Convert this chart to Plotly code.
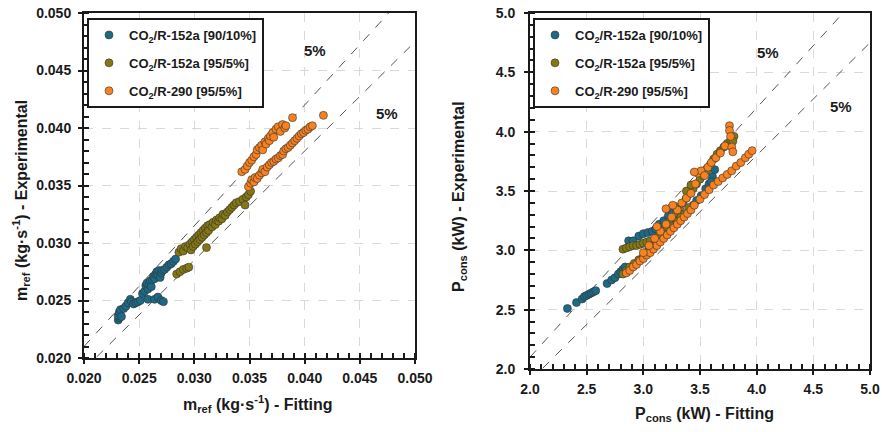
import plotly.graph_objects as go

# ---------------- data ----------------
series_names = ["CO<sub>2</sub>/R-152a [90/10%]", "CO<sub>2</sub>/R-152a [95/5%]", "CO<sub>2</sub>/R-290 [95/5%]"]
series_colors = ["#1c6a86", "#857812", "#f7821f"]

m_ticks = [0.020, 0.025, 0.030, 0.035, 0.040, 0.045, 0.050]
m_tick_labels = ["0.020", "0.025", "0.030", "0.035", "0.040", "0.045", "0.050"]
p_ticks = [2.0, 2.5, 3.0, 3.5, 4.0, 4.5, 5.0]
p_tick_labels = ["2.0", "2.5", "3.0", "3.5", "4.0", "4.5", "5.0"]

# Left panel: refrigerant mass flow (kg/s), fitting vs experimental
m_teal_fit = [0.0231, 0.0232, 0.0231, 0.0232, 0.0233, 0.0234, 0.0236, 0.0238, 0.0240, 0.0242, 0.0243, 0.0245,
              0.0247, 0.0249, 0.0251, 0.0253, 0.0255, 0.0256, 0.0257, 0.0258, 0.0259, 0.0260, 0.0261, 0.0262,
              0.0263, 0.0264, 0.0265, 0.0266, 0.0267, 0.0268, 0.0269, 0.0270, 0.0271, 0.0273, 0.0275, 0.0277,
              0.0279, 0.0281, 0.0283, 0.0258, 0.0264, 0.0267, 0.0270, 0.0272]
m_teal_exp = [0.0233, 0.0235, 0.0237, 0.0240, 0.0242, 0.0236, 0.0243, 0.0245, 0.0248, 0.0251, 0.0249, 0.0247,
              0.0248, 0.0249, 0.0250, 0.0256, 0.0258, 0.0263, 0.0265, 0.0260, 0.0264, 0.0267, 0.0262, 0.0268,
              0.0271, 0.0269, 0.0273, 0.0275, 0.0272, 0.0276, 0.0270, 0.0274, 0.0276, 0.0277, 0.0279, 0.0281,
              0.0282, 0.0284, 0.0286, 0.0251, 0.0251, 0.0253, 0.0250, 0.0249]

m_olive_fit = [0.0284, 0.0287, 0.0290, 0.0293, 0.0295,
               0.0286, 0.0288, 0.0290, 0.0292, 0.0294, 0.0296, 0.0297, 0.0298, 0.0299, 0.0300, 0.0301, 0.0302,
               0.0303, 0.0304, 0.0305, 0.0306, 0.0307, 0.0308, 0.0309, 0.0310, 0.0311, 0.0312, 0.0313, 0.0314,
               0.0316, 0.0317, 0.0319, 0.0320, 0.0322, 0.0323, 0.0325, 0.0326, 0.0328, 0.0330, 0.0332, 0.0334,
               0.0336, 0.0338, 0.0341, 0.0344, 0.0347, 0.0349, 0.0351, 0.0346, 0.0311]
m_olive_exp = [0.0273, 0.0275, 0.0277, 0.0278, 0.0279,
               0.0292, 0.0295, 0.0293, 0.0297, 0.0296, 0.0299, 0.0294, 0.0301, 0.0297, 0.0303, 0.0299, 0.0305,
               0.0301, 0.0307, 0.0303, 0.0309, 0.0305, 0.0311, 0.0307, 0.0313, 0.0309, 0.0315, 0.0311, 0.0316,
               0.0314, 0.0318, 0.0316, 0.0320, 0.0319, 0.0322, 0.0321, 0.0325, 0.0324, 0.0327, 0.0329, 0.0331,
               0.0333, 0.0335, 0.0336, 0.0338, 0.0340, 0.0342, 0.0345, 0.0333, 0.0296]

m_orange_fit = [0.0343, 0.0346, 0.0348, 0.0350, 0.0352, 0.0354, 0.0356, 0.0357, 0.0359, 0.0361, 0.0362, 0.0364,
                0.0365, 0.0367, 0.0368, 0.0369, 0.0371, 0.0372, 0.0374, 0.0376, 0.0378, 0.0380, 0.0382, 0.0383,
                0.0389,
                0.0349, 0.0351, 0.0352, 0.0354, 0.0355, 0.0357, 0.0359, 0.0361, 0.0362, 0.0364, 0.0366, 0.0368,
                0.0370, 0.0372, 0.0374, 0.0376, 0.0378, 0.0380, 0.0381, 0.0383, 0.0385, 0.0387, 0.0389, 0.0391,
                0.0393, 0.0395, 0.0397, 0.0399, 0.0401, 0.0403, 0.0405, 0.0407, 0.0417]
m_orange_exp = [0.0362, 0.0364, 0.0367, 0.0370, 0.0372, 0.0375, 0.0377, 0.0381, 0.0383, 0.0385, 0.0381, 0.0388,
                0.0386, 0.0391, 0.0389, 0.0393, 0.0396, 0.0392, 0.0399, 0.0401, 0.0397, 0.0403, 0.0400, 0.0402,
                0.0409,
                0.0349, 0.0352, 0.0355, 0.0353, 0.0357, 0.0356, 0.0359, 0.0361, 0.0364, 0.0362, 0.0366, 0.0368,
                0.0370, 0.0371, 0.0373, 0.0374, 0.0376, 0.0377, 0.0380, 0.0382, 0.0383, 0.0385, 0.0387, 0.0389,
                0.0391, 0.0393, 0.0395, 0.0396, 0.0398, 0.0399, 0.0401, 0.0402, 0.0411]

# Right panel: power consumption (kW), fitting vs experimental
p_teal_fit = [2.33, 2.41, 2.46, 2.48, 2.50, 2.52, 2.54, 2.56, 2.58, 2.68, 2.72, 2.75, 2.78, 2.80, 2.82, 2.84,
              2.87, 2.91, 2.96, 3.00, 3.04, 3.08, 3.11, 3.14, 3.18, 3.22, 3.26,
              3.05, 3.10, 3.15, 3.20, 3.25, 3.30, 3.35, 3.40, 3.44, 3.47, 3.51, 3.55, 3.58, 3.61, 3.63, 3.60]
p_teal_exp = [2.51, 2.56, 2.59, 2.61, 2.62, 2.63, 2.64, 2.65, 2.66, 2.72, 2.75, 2.77, 2.80, 2.82, 2.84, 2.86,
              3.08, 3.08, 3.12, 3.14, 3.15, 3.16, 3.18, 3.22, 3.25, 3.29, 3.32,
              3.02, 3.07, 3.12, 3.17, 3.22, 3.26, 3.30, 3.34, 3.38, 3.42, 3.46, 3.52, 3.56, 3.62, 3.68, 3.58]

p_olive_fit = [2.82, 2.85, 2.88, 2.91, 2.94, 2.97, 3.00, 3.03, 3.06,
               2.82, 2.85, 2.88, 2.92, 2.96, 3.00, 3.04, 3.08, 3.11, 3.14, 3.17, 3.20, 3.23, 3.26, 3.29, 3.32,
               3.35, 3.38, 3.41, 3.44, 3.47, 3.50, 3.53, 3.56, 3.59, 3.62, 3.65, 3.68, 3.71, 3.74, 3.77, 3.80,
               3.79, 3.25, 3.30, 3.35, 3.40, 3.38, 3.42, 3.28, 3.33]
p_olive_exp = [3.01, 3.02, 3.03, 3.04, 3.04, 3.05, 3.06, 3.07, 3.08,
               2.80, 2.83, 2.86, 2.89, 2.92, 2.95, 2.99, 3.03, 3.08, 3.12, 3.16, 3.20, 3.24, 3.28, 3.31, 3.35,
               3.40, 3.44, 3.48, 3.52, 3.56, 3.60, 3.63, 3.67, 3.72, 3.77, 3.81, 3.84, 3.87, 3.90, 3.93, 3.96,
               3.92, 3.20, 3.25, 3.30, 3.36, 3.50, 3.55, 3.37, 3.28]

p_orange_fit = [2.85, 2.88, 2.91, 2.94, 2.97, 3.00, 3.03, 3.06, 3.09, 3.12, 3.15, 3.18, 3.21, 3.24, 3.27, 3.30,
                3.33, 3.36, 3.39, 3.42, 3.45, 3.50, 3.54, 3.58, 3.62, 3.66, 3.70, 3.74, 3.78, 3.82, 3.86, 3.90,
                3.93, 3.96,
                3.00, 3.05, 3.10, 3.15, 3.20, 3.25, 3.30, 3.34, 3.38, 3.42, 3.46, 3.48, 3.51, 3.45, 3.54, 3.57,
                3.60, 3.64, 3.68, 3.72, 3.76, 3.76, 3.77, 3.78, 3.79, 3.12, 3.20, 3.26]
p_orange_exp = [2.81, 2.83, 2.86, 2.88, 2.91, 2.93, 2.96, 2.98, 3.01, 3.04, 3.07, 3.10, 3.13, 3.16, 3.19, 3.22,
                3.25, 3.28, 3.31, 3.34, 3.38, 3.43, 3.47, 3.51, 3.55, 3.58, 3.61, 3.64, 3.67, 3.71, 3.74, 3.78,
                3.81, 3.84,
                2.98, 3.04, 3.10, 3.16, 3.22, 3.28, 3.34, 3.40, 3.44, 3.48, 3.56, 3.65, 3.67, 3.66, 3.63, 3.70,
                3.74, 3.78, 3.82, 3.88, 4.05, 4.01, 3.96, 3.87, 3.83, 3.20, 3.35, 3.38]

m_range = [0.020, 0.050]
p_range = [2.0, 5.0]
band_factors = [1.05, 0.95]

FONT = "Liberation Sans, Arial, sans-serif"

fig = go.Figure()

left_sets = [(m_teal_fit, m_teal_exp), (m_olive_fit, m_olive_exp), (m_orange_fit, m_orange_exp)]
right_sets = [(p_teal_fit, p_teal_exp), (p_olive_fit, p_olive_exp), (p_orange_fit, p_orange_exp)]

# dashed +/-5% lines
for f in band_factors:
    fig.add_trace(go.Scatter(x=m_range, y=[v * f for v in m_range], mode="lines", xaxis="x", yaxis="y",
                             line=dict(color="#555555", width=1, dash="dash"), showlegend=False, hoverinfo="skip"))
    fig.add_trace(go.Scatter(x=p_range, y=[v * f for v in p_range], mode="lines", xaxis="x2", yaxis="y2",
                             line=dict(color="#555555", width=1, dash="dash"), showlegend=False, hoverinfo="skip"))

for i, (name, col) in enumerate(zip(series_names, series_colors)):
    xs, ys = left_sets[i]
    fig.add_trace(go.Scatter(x=xs, y=ys, mode="markers", name="<b>" + name + "</b>", xaxis="x", yaxis="y",
                             legend="legend", legendgroup="L%d" % i,
                             marker=dict(color=col, size=8, line=dict(color="#333333", width=0.6))))
    xs, ys = right_sets[i]
    fig.add_trace(go.Scatter(x=xs, y=ys, mode="markers", name="<b>" + name + "</b>", xaxis="x2", yaxis="y2",
                             legend="legend2", legendgroup="R%d" % i,
                             marker=dict(color=col, size=8, line=dict(color="#333333", width=0.6))))

W, H = 882, 432


def px(x):
    return x / W


def py(y):
    return 1 - y / H


def axis_common(rng, ticks, labels, minor_dtick, domain, anchor, standoff):
    return dict(range=rng, tickmode="array", tickvals=ticks, ticktext=["<b>%s</b>" % t for t in labels],
                domain=domain, anchor=anchor, automargin=False, ticklabeloverflow="allow",
                showline=True, linecolor="#1a1a1a", linewidth=2, mirror=True,
                ticks="outside", ticklen=4, tickwidth=1.5, tickcolor="#1a1a1a",
                minor=dict(dtick=minor_dtick, tick0=rng[0], ticks="inside", ticklen=5, tickwidth=1.5,
                           tickcolor="#1a1a1a", showgrid=False),
                showgrid=True, gridcolor="#d9d9d9", gridwidth=1, griddash="dash",
                zeroline=False, tickfont=dict(family=FONT, size=14, color="#1a1a1a"),
                ticklabelstandoff=standoff)


xL = [px(84), px(415)]
yL = [py(358), py(13)]
xR = [px(530), px(870)]
yR = [py(369), py(13)]

legend_style = dict(bordercolor="#1a1a1a", borderwidth=2, bgcolor="white",
                    font=dict(family=FONT, size=13, color="#1a1a1a"),
                    tracegroupgap=8, xanchor="left", yanchor="top", itemwidth=30)

fig.update_layout(
    width=W, height=H, margin=dict(l=0, r=0, t=0, b=0),
    paper_bgcolor="white", plot_bgcolor="white",
    font=dict(family=FONT, color="#1a1a1a"),
    xaxis=axis_common(m_range, m_ticks, m_tick_labels, 0.001, xL, "y", 2),
    yaxis=axis_common(m_range, m_ticks, m_tick_labels, 0.001, yL, "x", 4),
    xaxis2=axis_common(p_range, p_ticks, p_tick_labels, 0.1, xR, "y2", 2),
    yaxis2=axis_common(p_range, p_ticks, p_tick_labels, 0.1, yR, "x2", 6),
    legend=dict(x=px(87), y=py(18), **legend_style),
    legend2=dict(x=px(533), y=py(18), **legend_style),
)

ann = []
title_font = dict(family=FONT, size=16, color="#1a1a1a")
ann.append(dict(text="<b>m<sub>ref</sub> (kg·s<sup>-1</sup>) - Experimental</b>", x=px(21), y=py(201),
                xref="paper", yref="paper", textangle=-90, showarrow=False, font=title_font,
                xanchor="center", yanchor="middle"))
ann.append(dict(text="<b>m<sub>ref</sub> (kg·s<sup>-1</sup>) - Fitting</b>", x=px(258), y=py(404),
                xref="paper", yref="paper", showarrow=False, font=title_font,
                xanchor="center", yanchor="middle"))
ann.append(dict(text="<b>P<sub>cons</sub> (kW) - Experimental</b>", x=px(459), y=py(197),
                xref="paper", yref="paper", textangle=-90, showarrow=False, font=title_font,
                xanchor="center", yanchor="middle"))
ann.append(dict(text="<b>P<sub>cons</sub> (kW) - Fitting</b>", x=px(704), y=py(414),
                xref="paper", yref="paper", showarrow=False, font=title_font,
                xanchor="center", yanchor="middle"))
pct_font = dict(family=FONT, size=15, color="#1a1a1a")
for (xx, yy, xr, yr) in [(0.04094, 0.04678, "x", "y"), (0.04746, 0.04130, "x", "y"),
                         (4.10, 4.671, "x2", "y2"), (4.744, 4.208, "x2", "y2")]:
    ann.append(dict(text="<b>5%</b>", x=xx, y=yy, xref=xr, yref=yr, showarrow=False, font=pct_font))
fig.update_layout(annotations=ann)

# remove the default 8px page margin so the 882x432 figure fills the window exactly
fig.write_html("out.html", config={"displayModeBar": False},
               post_script="document.body.style.margin='0px';document.body.style.overflow='hidden';")
